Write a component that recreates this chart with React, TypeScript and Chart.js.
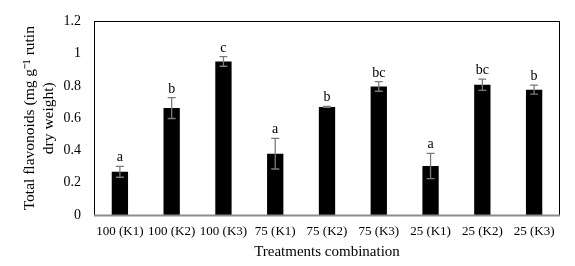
import React, { useEffect, useRef } from "react";
import { Chart, registerables } from "chart.js";

Chart.register(...registerables);

const categories = ["100 (K1)", "100 (K2)", "100 (K3)", "75 (K1)", "75 (K2)", "75 (K3)", "25 (K1)", "25 (K2)", "25 (K3)"];
const flavonoids = [0.268, 0.663, 0.952, 0.38, 0.67, 0.797, 0.304, 0.807, 0.777];
const errors = [0.034, 0.065, 0.03, 0.095, 0.003, 0.03, 0.078, 0.035, 0.028];
const letters = ["a", "b", "c", "a", "b", "bc", "a", "bc", "b"];
const yTicks = [0, 0.2, 0.4, 0.6, 0.8, 1, 1.2];

const SERIF = "'Liberation Serif', 'Times New Roman', serif";

const overlayPlugin = {
  id: "overlay",
  afterDatasetsDraw(chart: any) {
    const ctx = chart.ctx;
    const x = chart.scales.x;
    const y = chart.scales.y;
    const area = chart.chartArea;
    ctx.save();
    // plot border
    ctx.strokeStyle = "#000";
    ctx.lineWidth = 1;
    ctx.strokeRect(Math.round(area.left) + 0.5, Math.round(area.top) + 0.5, Math.round(area.right - area.left) - 1, Math.round(area.bottom - area.top));
    // bottom axis gray
    ctx.strokeStyle = "#8c8c8c";
    ctx.lineWidth = 2;
    ctx.beginPath();
    ctx.moveTo(area.left, Math.round(area.bottom) + 0.5);
    ctx.lineTo(area.right, Math.round(area.bottom) + 0.5);
    ctx.stroke();
    // error bars and letters
    flavonoids.forEach((v, i) => {
      const cx = x.getPixelForValue(i);
      const top = y.getPixelForValue(v + errors[i]);
      const bot = y.getPixelForValue(v - errors[i]);
      ctx.strokeStyle = "#7a7a7a";
      ctx.lineWidth = 1.3;
      ctx.beginPath();
      ctx.moveTo(cx, top);
      ctx.lineTo(cx, bot);
      ctx.moveTo(cx - 4, top);
      ctx.lineTo(cx + 4, top);
      ctx.moveTo(cx - 4, bot);
      ctx.lineTo(cx + 4, bot);
      ctx.stroke();
      ctx.fillStyle = "#000";
      ctx.font = `14px ${SERIF}`;
      ctx.textAlign = "center";
      ctx.textBaseline = "alphabetic";
      ctx.fillText(letters[i], cx, top - 5);
    });
    ctx.restore();
  },
};

export default function App() {
  const ref = useRef<HTMLCanvasElement | null>(null);
  useEffect(() => {
    if (!ref.current) return;
    const chart = new Chart(ref.current, {
      type: "bar",
      data: {
        labels: categories,
        datasets: [
          {
            data: flavonoids,
            backgroundColor: "#000",
            borderWidth: 0,
            categoryPercentage: 1,
            barPercentage: 0.315,
          },
        ],
      },
      options: {
        animation: false,
        responsive: false,
        devicePixelRatio: 1,
        layout: { padding: { top: 12, right: 15, bottom: 0, left: 0 } },
        plugins: { legend: { display: false }, tooltip: { enabled: false } },
        scales: {
          x: {
            grid: { display: false, drawTicks: false },
            border: { display: false },
            ticks: { color: "#000", font: { family: SERIF, size: 13 }, padding: 9, maxRotation: 0, autoSkip: false },
            title: {
              display: true,
              text: "Treatments combination",
              color: "#000",
              font: { family: SERIF, size: 15 },
              padding: { top: 0, bottom: 5 },
            },
            afterFit: (s: any) => {
              s.height = 51;
            },
          },
          y: {
            min: 0,
            max: 1.2,
            grid: { display: false, drawTicks: false },
            border: { display: false },
            afterBuildTicks: (s: any) => {
              s.ticks = yTicks.map((v) => ({ value: v }));
            },
            ticks: {
              color: "#000",
              font: { family: SERIF, size: 14 },
              padding: 13,
              callback: (v: any) => String(Math.round(Number(v) * 10) / 10),
            },
            title: {
              display: true,
              text: ["Total flavonoids (mg g\u207B\u00B9 rutin", "dry weight)"],
              color: "#000",
              font: { family: SERIF, size: 15.5 },
              padding: { top: 21, bottom: 0 },
            },
            afterFit: (s: any) => {
              s.width = 94;
            },
          },
        },
      },
      plugins: [overlayPlugin],
    });
    return () => chart.destroy();
  }, []);
  return (
    <div style={{ position: "fixed", left: 0, top: 0, width: 575, height: 266, background: "#fff" }}>
      <canvas ref={ref} width={575} height={266} style={{ width: 575, height: 266, display: "block" }} />
    </div>
  );
}
